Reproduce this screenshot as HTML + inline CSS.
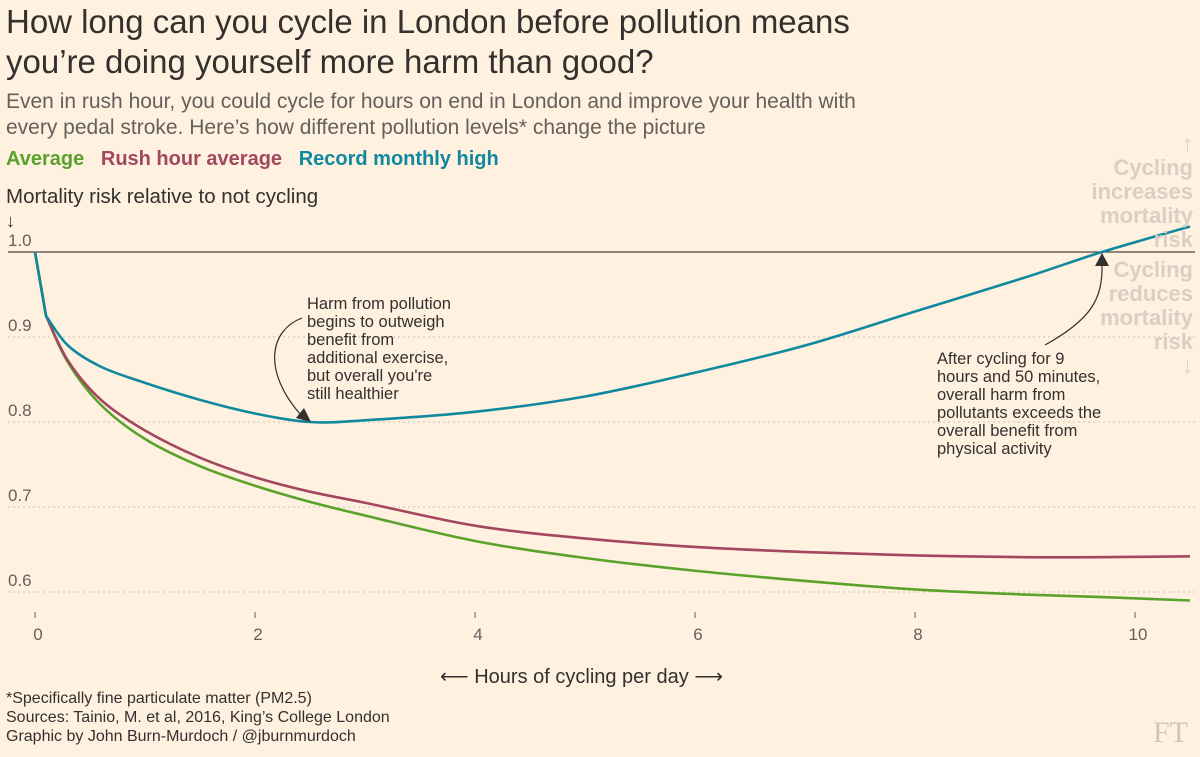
<!DOCTYPE html>
<html><head><meta charset="utf-8"><style>
body{margin:0;background:#fff1e0;font-family:"Liberation Sans",sans-serif;}
#c{position:relative;width:1200px;height:757px;overflow:hidden;background:#fff1e0}
.t{position:absolute;white-space:nowrap}
</style></head><body>
<div id="c">
<div class="t" style="left:6px;top:2px;font-size:33px;line-height:40px;color:#33302e">How long can you cycle in London before pollution means<br>you’re doing yourself more harm than good?</div>
<div class="t" style="left:6px;top:89px;font-size:21px;line-height:26px;color:#66605c">Even in rush hour, you could cycle for hours on end in London and improve your health with<br>every pedal stroke. Here’s how different pollution levels* change the picture</div>
<div class="t" style="left:6px;top:148px;font-size:20px;font-weight:bold">
<span style="color:#5aa22c">Average</span>&nbsp;&nbsp;
<span style="color:#a3475f">Rush hour average</span>&nbsp;&nbsp;
<span style="color:#10899f">Record monthly high</span></div>
<div class="t" style="left:6px;top:185px;font-size:20.5px;line-height:24px;color:#33302e">Mortality risk relative to not cycling<br><span style="font-size:18px">↓</span></div>
<svg id="s" width="1200" height="757" style="position:absolute;left:0;top:0"></svg>
<div class="t" style="left:440px;top:664px;font-size:20px;color:#33302e">⟵ Hours of cycling per day ⟶</div>
<div class="t" style="left:307px;top:295px;font-size:16.5px;line-height:18px;color:#33302e">Harm from pollution<br>begins to outweigh<br>benefit from<br>additional exercise,<br>but overall you're<br>still healthier</div>
<div class="t" style="left:937px;top:350px;font-size:16.5px;line-height:18px;color:#33302e">After cycling for 9<br>hours and 50 minutes,<br>overall harm from<br>pollutants exceeds the<br>overall benefit from<br>physical activity</div>
<div class="t" style="right:7px;top:132px;text-align:right;font-size:22px;line-height:24px;font-weight:bold;color:#d9cfc4"><span style="font-weight:normal">↑</span><br>Cycling<br>increases<br>mortality<br>risk</div>
<div class="t" style="right:7px;top:258px;text-align:right;font-size:22px;line-height:24px;font-weight:bold;color:#d9cfc4">Cycling<br>reduces<br>mortality<br>risk<br><span style="font-weight:normal">↓</span></div>
<div class="t" style="left:6px;top:689px;font-size:16px;line-height:19px;color:#33302e">*Specifically fine particulate matter (PM2.5)<br>Sources: Tainio, M. et al, 2016, King’s College London<br>Graphic by John Burn-Murdoch / @jburnmurdoch</div>
<div class="t" style="right:12px;top:716px;font-family:'Liberation Serif',serif;font-size:30px;color:#cec6bd">FT</div>
</div>
<script>
const hours=[0,0.1,0.3,0.6,1,1.5,2,2.5,3,4,5,6,7,8,9,9.7,10.5];
const average=[1,0.925,0.87,0.82,0.78,0.748,0.725,0.706,0.69,0.66,0.64,0.625,0.613,0.603,0.597,0.594,0.590];
const rushHour=[1,0.925,0.872,0.826,0.79,0.758,0.735,0.718,0.705,0.678,0.663,0.653,0.647,0.643,0.641,0.641,0.642];
const recordHigh=[1,0.925,0.89,0.865,0.846,0.826,0.81,0.80,0.802,0.812,0.83,0.858,0.89,0.93,0.97,1.0,1.03];
const yTicks=[1.0,0.9,0.8,0.7,0.6];
const xTicks=[0,2,4,6,8,10];
const X=h=>35+h*110, Y=v=>252+(1-v)*850;
const s=document.getElementById('s'),NS='http://www.w3.org/2000/svg';
function mk(t,a){const e=document.createElementNS(NS,t);for(const k in a)e.setAttribute(k,a[k]);s.appendChild(e);return e;}
yTicks.forEach(v=>{
 const l=mk('line',{x1:8,x2:1195,y1:Y(v),y2:Y(v),stroke:v===1?'#4a4541':'#ccc1b7','stroke-width':v===1?1.2:1,'stroke-dasharray':v===1?'':'2,3'});
 
 
 const t=mk('text',{x:8,y:Y(v)-6,'font-size':17,fill:'#66605c','font-family':'Liberation Sans'});
 t.textContent=v.toFixed(1);
 
 
});
xTicks.forEach(h=>{
 const l=mk('line',{x1:X(h),x2:X(h),y1:612,y2:618,stroke:'#66605c'});
 
 
 const t=mk('text',{x:X(h)+3,y:640,'font-size':17,fill:'#66605c','text-anchor':'middle','font-family':'Liberation Sans'});
 t.textContent=h;
 
 
});
function line(vals,col,name){
 let d='M'+X(hours[0])+','+Y(vals[0])+' L'+X(hours[1])+','+Y(vals[1]);
 for(let i=1;i<hours.length-1;i++){
  const p0=[X(hours[Math.max(i-1,1)]),Y(vals[Math.max(i-1,1)])],p1=[X(hours[i]),Y(vals[i])],p2=[X(hours[i+1]),Y(vals[i+1])],p3=[X(hours[Math.min(i+2,hours.length-1)]),Y(vals[Math.min(i+2,hours.length-1)])];
  d+=' C'+(p1[0]+(p2[0]-p0[0])/6)+','+(p1[1]+(p2[1]-p0[1])/6)+' '+(p2[0]-(p3[0]-p1[0])/6)+','+(p2[1]-(p3[1]-p1[1])/6)+' '+p2[0]+','+p2[1];
 }
 const p=mk('path',{d:d,fill:'none',stroke:col,'stroke-width':2.6});
 
 
}
line(average,'#5aa22c','line-average');
line(rushHour,'#a3475f','line-rush-hour');
line(recordHigh,'#10899f','line-record-high');
const a1=mk('path',{d:'M302,318 C270,330 262,370 300,414',fill:'none',stroke:'#33302e','stroke-width':1.2});


const h1=mk('polygon',{points:'311,422 296,418 304,408',fill:'#33302e'});


const a2=mk('path',{d:'M1045,345 C1090,320 1103,300 1102,264',fill:'none',stroke:'#33302e','stroke-width':1.2});


const h2=mk('polygon',{points:'1102,253 1095,266 1109,266',fill:'#33302e'});


</script>
</body></html>
